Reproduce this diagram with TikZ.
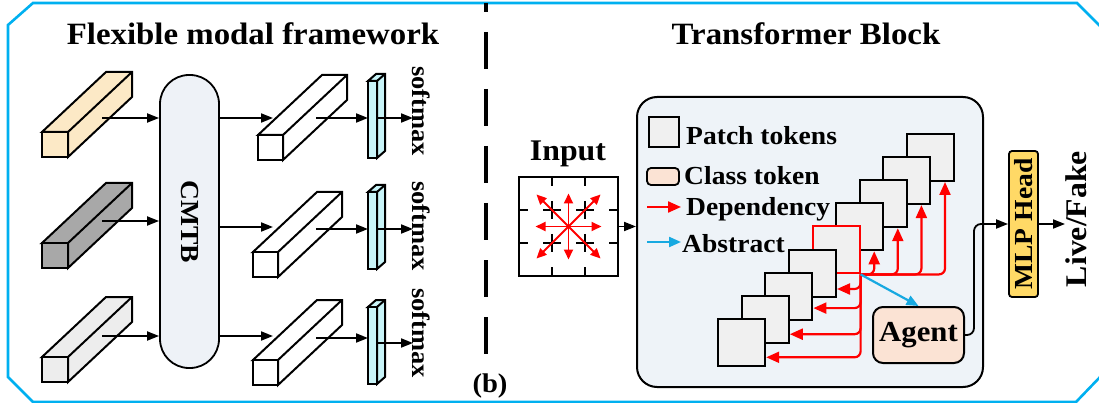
\documentclass[tikz,border=0pt]{standalone}
\usepackage{fontspec}
\usepackage{graphicx}
\setmainfont{Liberation Serif}
\usetikzlibrary{arrows.meta,calc}

\definecolor{framecol}{HTML}{00B0F0}
\definecolor{barY}{HTML}{FCE9C6}
\definecolor{barD}{HTML}{A8A8A8}
\definecolor{barL}{HTML}{EDEDED}
\definecolor{barC}{HTML}{C8F4F8}
\definecolor{cmtbfill}{HTML}{EEF2F7}
\definecolor{tbfill}{HTML}{EEF3F8}
\definecolor{patchfill}{HTML}{F0F0F0}
\definecolor{peach}{HTML}{FBE3D4}
\definecolor{mlpfill}{HTML}{FFD966}
\definecolor{abscol}{HTML}{17A9E1}
\definecolor{depred}{HTML}{FF0000}

\newcommand\fsz[1]{\fontsize{#1}{#1}\selectfont}
\newcommand\wtxt[1]{\scalebox{1.06}[1]{#1}}

% cuboid: fill, x, y (front face top-left), width, height, depth dx, depth dy
\newcommand\cubo[7]{%
  \begin{scope}[shift={(#2,#3)}]
    \filldraw[bar, fill=#1] (0,0) -- (#6,#7) -- ({#4+#6},#7) -- ({#4+#6},{#5+#7}) -- (#4,#5) -- (#4,0) -- cycle;
    \draw[bar] (#4,0) -- ({#4+#6},#7);
    \filldraw[bar, fill=#1] (0,0) rectangle (#4,#5);
  \end{scope}}

\begin{document}
\begin{tikzpicture}[x=1pt,y=-1pt,
  bar/.style={line width=2pt, line join=miter},
  arr/.style={-{Triangle[length=12pt,width=9pt]}, line width=1.8pt},
  redarr/.style={draw=depred, -{Triangle[length=13pt,width=11pt]}, line width=2.2pt, fill=none},
  gridarr/.style={draw=depred, -{Triangle[length=10pt,width=9pt]}, line width=1.9pt},
  absarr/.style={draw=abscol, -{Triangle[length=12pt,width=10pt]}, line width=2.2pt},
  patch/.style={draw, fill=patchfill, minimum size=47pt, inner sep=0pt, line width=2pt},
  label/.style={font=\bfseries\fsz{26}, inner sep=0pt},
  softlbl/.style={font=\bfseries\fsz{25}, inner sep=0pt, rotate=-90},
]
\useasboundingbox (0,0) rectangle (1099,403);

% outer frame
\draw[framecol, line width=2.6pt] (1101,376) -- (1076,402) -- (33,402) -- (8,377) -- (8,25) -- (33,3) -- (1077,3) -- (1101,27);

% divider between the two parts
\draw[line width=3.4pt, dash pattern=on 37pt off 20pt, dash phase=28pt] (486,3) -- (486,354);
\node (lblb) [anchor=base, font=\bfseries\fsz{27}, inner sep=0pt] at (490,392) {\wtxt{(b)}};

% titles
\node (t1) [anchor=base, font=\bfseries\fsz{31}, inner sep=0pt] at (253,45) {\wtxt{Flexible modal framework}};
\node (t2) [anchor=base, font=\bfseries\fsz{31}, inner sep=0pt] at (806,45) {\wtxt{Transformer Block}};

% ---------- flexible modal framework ----------
\cubo{barY}{42}{132}{26}{25}{64}{-60}
\cubo{barD}{42}{243}{26}{25}{64}{-60}
\cubo{barL}{42}{357}{26}{25}{64}{-60}

\node (cmtb) [draw, fill=cmtbfill, rounded corners=29pt, minimum width=59pt, minimum height=293pt,
  inner sep=0pt, line width=1.8pt, font=\bfseries\fsz{26}] at (189.5,221.5) {\rotatebox{-90}{\wtxt{CMTB}}};

\cubo{white}{258}{135}{25}{25}{64}{-60}
\cubo{white}{253}{252}{25}{25}{64}{-60}
\cubo{white}{253}{360}{25}{25}{64}{-60}

\cubo{barC}{368}{81}{9}{77}{8}{-7}
\cubo{barC}{368}{192}{9}{77}{8}{-7}
\cubo{barC}{368}{307}{9}{77}{8}{-7}

\coordinate (ia) at (102,118);
\coordinate (ib) at (102,221);
\coordinate (ic) at (102,336);
\draw[arr] (ia) -- (ia -| cmtb.west);
\draw[arr] (ib) -- (ib -| cmtb.west);
\draw[arr] (ic) -- (ic -| cmtb.west);

\coordinate (wa) at (273,118);
\coordinate (wb) at (273,227);
\coordinate (wc) at (273,336);
\draw[arr] (wa -| cmtb.east) -- (wa);
\draw[arr] (wb -| cmtb.east) -- (wb);
\draw[arr] (wc -| cmtb.east) -- (wc);

\coordinate (fa) at (316,118);  \coordinate (ca) at (368,118);
\coordinate (fb) at (316,229);  \coordinate (cb) at (368,229);
\coordinate (fc) at (316,338);  \coordinate (cc) at (368,338);
\draw[arr] (fa) -- (ca);
\draw[arr] (fb) -- (cb);
\draw[arr] (fc) -- (cc);

\coordinate (sa0) at (377,118); \coordinate (sa) at (413,118);
\coordinate (sb0) at (377,229); \coordinate (sb) at (413,229);
\coordinate (sc0) at (377,343); \coordinate (sc) at (413,343);
\draw[arr] (sa0) -- (sa);
\draw[arr] (sb0) -- (sb);
\draw[arr] (sc0) -- (sc);

\node (sm1) [softlbl] at (421,111) {\wtxt{softmax}};
\node (sm2) [softlbl] at (421,226) {\wtxt{softmax}};
\node (sm3) [softlbl] at (421,333) {\wtxt{softmax}};

% ---------- transformer block ----------
\node (inlbl) [anchor=base, font=\bfseries\fsz{30}, inner sep=0pt] at (568,161) {\wtxt{Input}};

\node (grid) [minimum size=99pt, inner sep=0pt] at (568.5,226.5) {};
\draw[line width=1.8pt, dash pattern=on 18pt off 15pt, dash phase=9pt]
  (552,177) -- (552,276) (585,177) -- (585,276)
  (519,210) -- (618,210) (519,243) -- (618,243);
\foreach \dx/\dy in {33/0,-33/0,0/33,0/-33,32/32,32/-32,-32/32,-32/-32}
  \draw[gridarr] (grid.center) -- ++(\dx,\dy);
\draw[line width=2pt] (grid.south west) rectangle (grid.north east);

\node (tb) [draw, fill=tbfill, rounded corners=20pt, minimum width=346pt, minimum height=290pt,
  line width=2pt] at (810,242) {};
\draw[arr] (grid.east) -- (grid.east -| tb.west);

% legend
\node (lp) [patch, minimum size=30pt] at (664,132) {};
\node (lpt) [label, anchor=base west] at (686,145) {\wtxt{Patch tokens}};
\node (lc) [draw, fill=peach, rounded corners=4pt, minimum width=32pt, minimum height=17pt,
  inner sep=0pt, line width=1.8pt] at (663,176.5) {};
\node (lct) [label, anchor=base west] at (684,185) {\wtxt{Class token}};
\coordinate (ld1) at (647,207); \coordinate (ld2) at (681,207);
\draw[redarr] (ld1) -- (ld2);
\node (ldt) [label, anchor=base west] at (686,215) {\wtxt{Dependency}};
\coordinate (la1) at (647,242); \coordinate (la2) at (681,242);
\draw[absarr] (la1) -- (la2);
\node (lat) [label, anchor=base west] at (682,252) {\wtxt{Abstract}};

% stacked patch tokens
\foreach \i in {1,...,9}{
  \pgfmathsetmacro\px{930.5-23.6*(\i-1)}
  \pgfmathsetmacro\py{157.5+23.1*(\i-1)}
  \ifnum\i=5
    \node (p\i) [patch, draw=depred] at (\px,\py) {};
  \else
    \node (p\i) [patch] at (\px,\py) {};
  \fi
}

% dependencies towards the other tokens
\foreach \j in {4,3,2,1}
  \draw[redarr, rounded corners=6pt] (p5.south east) -| ([xshift=14.5pt]p\j.south);
\foreach \k/\s in {6/16,7/12,8/15,9/15}
  \draw[redarr, rounded corners=6pt] (p5.south east) |- ([yshift=-\s pt]p\k.east);

\node (agent) [draw, fill=peach, rounded corners=10pt, minimum width=91pt, minimum height=56pt,
  inner sep=0pt, line width=2pt, font=\bfseries\fsz{29}] at (918.5,335) {\wtxt{Agent}};
\draw[absarr] (p5.south east) -- (agent.north);

\node (mlp) [draw, fill=mlpfill, rounded corners=3pt, minimum width=29pt, minimum height=146pt,
  inner sep=0pt, line width=1.8pt, font=\bfseries\fsz{26}] at (1023.5,224) {\rotatebox{90}{\wtxt{MLP Head}}};
\draw[arr, rounded corners=7pt] (agent.east) -- ++(9,0) |- (mlp.west);
\coordinate (out) at (1065,224);
\draw[arr] (mlp.east) -- (out);
\node (lf) [font=\bfseries\fsz{30}, inner sep=0pt, rotate=90] at (1076,219) {\wtxt{Live/Fake}};

\end{tikzpicture}
\end{document}
